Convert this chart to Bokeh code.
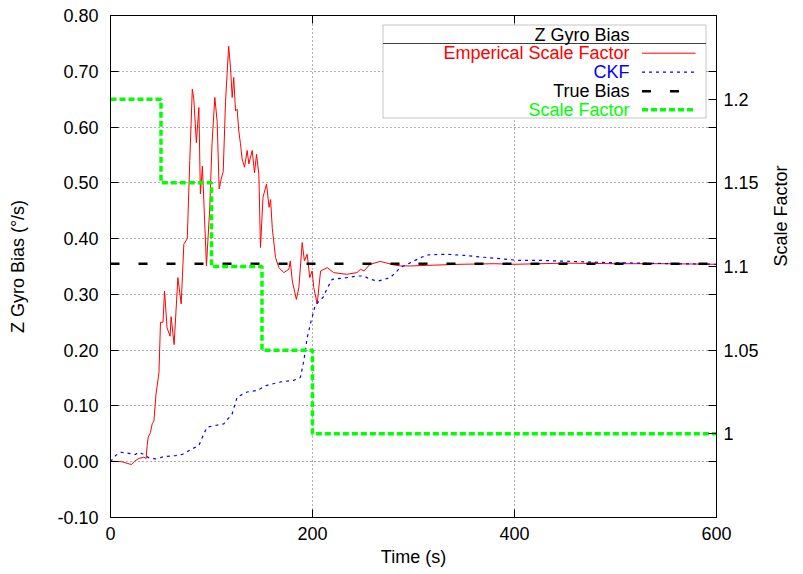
import math
from bokeh.plotting import figure
from bokeh.models import (Range1d, LinearAxis, FixedTicker, PrintfTickFormatter,
                          CustomJSTickFormatter, Label, BoxAnnotation, Arrow)
from bokeh.embed import file_html
from bokeh.resources import INLINE

# ---------------- data ----------------
emp_t = [0, 11.5, 16.5, 20.8, 24, 28, 33, 35.3, 36.3, 37.3, 39.5, 41.3, 43, 45, 48, 49.5,
         52, 53.5, 56, 59, 60, 63, 66.7, 70, 72.6, 76, 78.5, 81, 82.5, 85, 87.5, 89, 91,
         95, 98.3, 100.5, 103.3, 105.6, 107.6, 109.6, 111.6, 113.9, 117, 118.8, 120.5,
         122, 123.8, 125.4, 127, 128.7, 130.3, 132.7, 135.3, 137, 140.3, 142.6, 144.6,
         146.9, 148.5, 151, 154.5, 157, 158.5, 160.2, 163.4, 166.7, 171.6, 176.6, 178,
         180, 184, 186.5, 189.8, 192, 194.7, 197.3, 199.6, 201.3, 204.6, 208, 214.6, 221,
         234, 244, 247.5, 251, 257, 267, 272, 280, 287, 297, 313, 347, 380, 400, 450,
         500, 550, 600]
emp_v = [0.001, 0.0, -0.003, -0.005, 0.001, 0.006, 0.008, 0.006, 0.029, 0.044, 0.052,
         0.068, 0.073, 0.12, 0.16, 0.25, 0.25, 0.306, 0.24, 0.225, 0.26, 0.21, 0.33, 0.283,
         0.39, 0.40, 0.54, 0.668, 0.65, 0.572, 0.635, 0.48, 0.53, 0.351, 0.456, 0.57,
         0.653, 0.61, 0.489, 0.507, 0.52, 0.646, 0.745, 0.707, 0.653, 0.689, 0.629, 0.632,
         0.593, 0.57, 0.543, 0.528, 0.558, 0.534, 0.558, 0.518, 0.551, 0.515, 0.384,
         0.474, 0.498, 0.456, 0.47, 0.418, 0.366, 0.348, 0.339, 0.345, 0.36, 0.324, 0.291,
         0.312, 0.393, 0.36, 0.372, 0.33, 0.342, 0.312, 0.283, 0.342, 0.348, 0.339, 0.336,
         0.339, 0.345, 0.342, 0.354, 0.359, 0.357, 0.353, 0.351, 0.351, 0.352, 0.354,
         0.355, 0.354, 0.356, 0.355, 0.355, 0.354]

ckf_t = [0, 5, 10, 18, 24.7, 28, 33, 38, 44.5, 52.8, 64.4, 71, 80.9, 87.5, 92.4, 95.7,
         104, 112.2, 120.5, 125.4, 135.3, 145.2, 155, 168.3, 181.5, 188, 191.4, 194.7,
         198.6, 203, 208, 211, 214.6, 219.5, 234, 244, 250.8, 257, 265, 277, 287, 297,
         308.6, 315, 333, 350, 366, 386, 403, 426, 458, 492, 525, 558, 600]
ckf_v = [0.0, 0.011, 0.017, 0.015, 0.013, 0.017, 0.013, 0.007, 0.005, 0.009, 0.011,
         0.013, 0.023, 0.029, 0.050, 0.062, 0.065, 0.068, 0.086, 0.116, 0.125, 0.128,
         0.137, 0.143, 0.146, 0.151, 0.181, 0.222, 0.252, 0.282, 0.290, 0.296, 0.311,
         0.327, 0.330, 0.333, 0.333, 0.327, 0.324, 0.330, 0.348, 0.357, 0.367, 0.371,
         0.372, 0.370, 0.367, 0.364, 0.361, 0.361, 0.359, 0.357, 0.356, 0.355, 0.354]

true_t = [0, 600]
true_v = [0.355, 0.355]

sf_t = [0, 50, 100, 150, 200, 600]
sf_v = [1.2, 1.15, 1.1, 1.05, 1.0, 1.0]

x_ticks = [0, 200, 400, 600]
left_ticks = [-0.1, 0.0, 0.1, 0.2, 0.3, 0.4, 0.5, 0.6, 0.7, 0.8]
right_ticks = [1.0, 1.05, 1.1, 1.15, 1.2]

legend_title = "Z Gyro Bias"
series_names = ["Emperical Scale Factor", "CKF", "True Bias", "Scale Factor"]

# ---------------- styling ----------------
FONT = "Liberation Sans"
FS = "18px"
RED, BLUE, BLACK, GREEN = "#ff0000", "#0000ff", "#000000", "#00ff00"
GRID = "#606060"

p = figure(width=803, height=574, output_backend="svg", toolbar_location=None,
           x_range=Range1d(0, 600), y_range=Range1d(-0.1, 0.8),
           min_border_left=110, min_border_right=87, min_border_top=15,
           min_border_bottom=57)
p.extra_y_ranges = {"sf": Range1d(0.95, 1.25)}
p.background_fill_color = "white"
p.border_fill_color = "white"
p.outline_line_color = "black"
p.outline_line_width = 1

# axes
xa = p.xaxis[0]
xa.ticker = FixedTicker(ticks=x_ticks)
xa.axis_label = "Time (s)"
ya = p.yaxis[0]
ya.ticker = FixedTicker(ticks=left_ticks)
ya.formatter = PrintfTickFormatter(format="%.2f")
ya.axis_label = "Z Gyro Bias (°/s)"

y2 = LinearAxis(y_range_name="sf", axis_label="Scale Factor",
                ticker=FixedTicker(ticks=right_ticks,
                                   minor_ticks=[1 + (v - 0.05) / 3 for v in left_ticks]),
                formatter=CustomJSTickFormatter(code="return String(+tick.toFixed(2))"))
p.add_layout(y2, "right")
if "axis_label_orientation" in y2.properties():
    y2.axis_label_orientation = math.pi / 2

# mirrored x ticks on the top border (no labels)
xtop = LinearAxis(ticker=FixedTicker(ticks=x_ticks),
                  formatter=CustomJSTickFormatter(code="return ''"))
p.add_layout(xtop, "above")

for ax in (xa, ya, y2, xtop):
    ax.axis_line_color = "black"
    ax.major_tick_in = 8
    ax.major_tick_out = 0
    ax.minor_tick_in = 0
    ax.minor_tick_out = 0
    ax.major_tick_line_color = "black"
    ax.major_label_text_font = FONT
    ax.major_label_text_font_size = FS
    ax.major_label_text_color = "black"
    ax.axis_label_text_font = FONT
    ax.axis_label_text_font_size = FS
    ax.axis_label_text_font_style = "normal"
    ax.axis_label_text_color = "black"
xtop.major_label_standoff = 0
xtop.major_label_text_font_size = "1px"
y2.minor_tick_in = 8
y2.minor_tick_line_color = "black"
xa.major_label_standoff = 9
xa.axis_label_standoff = 4
ya.major_label_standoff = 12
ya.axis_label_standoff = 26
y2.major_label_standoff = 7
y2.axis_label_standoff = 19

# grid
p.xgrid.ticker = FixedTicker(ticks=x_ticks)
p.ygrid.ticker = FixedTicker(ticks=left_ticks)
for g in (p.xgrid[0], p.ygrid[0]):
    g.grid_line_color = GRID
    g.grid_line_dash = "1 3"
    g.grid_line_width = 1

# series (plot order like the original: red, blue, black, green)
p.line(emp_t, emp_v, line_color=RED, line_width=1)
p.line(ckf_t, ckf_v, line_color=BLUE, line_width=1.2, line_dash="3 4")
p.line(true_t, true_v, line_color=BLACK, line_width=2.5, line_dash="9 19")
p.step(sf_t, sf_v, mode="after", y_range_name="sf", line_color=GREEN,
       line_width=3.5, line_dash="6 3")

# ---------------- legend (screen units relative to frame) ----------------
box_l, box_r, box_t, box_b = 272.5, 595.5, 492.5, 399.5
p.add_layout(BoxAnnotation(left=box_l, right=box_r, top=box_t, bottom=box_b,
                           left_units="screen", right_units="screen",
                           top_units="screen", bottom_units="screen",
                           fill_color="white", fill_alpha=1.0,
                           line_color="#404040", line_width=1))
p.add_layout(Arrow(x_start=box_l, y_start=474, x_end=box_r, y_end=474,
                   start_units="screen", end_units="screen", end=None,
                   line_color="#404040", line_width=1))
p.add_layout(Label(x=519, y=483, x_units="screen", y_units="screen", text=legend_title,
                   text_align="right", text_baseline="middle", text_font=FONT,
                   text_font_size=FS, text_color="black"))
rows_y = [464.3, 445.3, 426.3, 407.7]
styles = [(RED, 1, None), (BLUE, 1.2, "3 4"), (BLACK, 2.5, "9 19"), (GREEN, 3.5, "6 3")]
for name, yy, (col, lw, dash) in zip(series_names, rows_y, styles):
    p.add_layout(Label(x=519, y=yy, x_units="screen", y_units="screen", text=name,
                       text_align="right", text_baseline="middle", text_font=FONT,
                       text_font_size=FS, text_color=col))
    kw = dict(line_dash=dash) if dash else {}
    p.add_layout(Arrow(x_start=531.5, y_start=yy, x_end=585, y_end=yy,
                       start_units="screen", end_units="screen", end=None,
                       line_color=col, line_width=lw, **kw))

open("out.html", "w").write(file_html(p, INLINE))
